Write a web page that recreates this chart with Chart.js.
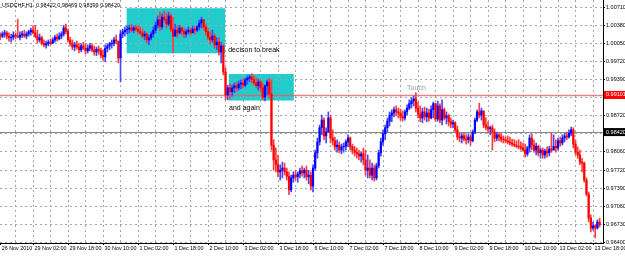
<!DOCTYPE html>
<html>
<head>
<meta charset="utf-8">
<script src="https://cdn.jsdelivr.net/npm/chart.js@4/dist/chart.umd.min.js"></script>
<style>
  body { margin: 0; background: #fff; }
  #wrap { width: 625px; height: 256px; position: relative; }
</style>
</head>
<body>
<div id="wrap"><canvas id="chart"></canvas></div>
<script>
// USDCHF H1 bars
const symbolTitle = 'USDCHF,H1  0.98422 0.98469 0.98399 0.98420';
const firstOpen = 1.0020;

const highs = [
  1.0024, 1.0026, 1.0029, 1.0027, 1.0024, 1.0022, 1.0026, 1.0024, 1.0049, 1.0026,
  1.0027, 1.0029, 1.0026, 1.0029, 1.0033, 1.0037, 1.0038, 1.0029, 1.0022, 1.0018,
  1.0011, 1.0009, 1.0011, 1.0013, 1.0015, 1.0020, 1.0022, 1.0024, 1.0026, 1.0038,
  1.0040, 1.0031, 1.0016, 1.0011, 1.0007, 1.0009, 1.0005, 1.0004, 1.0007, 1.0004,
  1.0002, 1.0005, 1.0004, 1.0000, 0.9998, 1.0000, 0.9996, 0.9993, 1.0002, 1.0004,
  1.0007, 1.0011, 1.0016, 1.0020, 1.0005, 1.0029, 1.0031, 1.0035, 1.0037, 1.0038,
  1.0040, 1.0037, 1.0038, 1.0037, 1.0035, 1.0031, 1.0027, 1.0024, 1.0020, 1.0026,
  1.0035, 1.0044, 1.0055, 1.0062, 1.0059, 1.0064, 1.0060, 1.0062, 1.0059, 1.0053,
  1.0040, 1.0037, 1.0038, 1.0035, 1.0033, 1.0031, 1.0035, 1.0033, 1.0037, 1.0035,
  1.0038, 1.0048, 1.0053, 1.0049, 1.0040, 1.0033, 1.0026, 1.0029, 1.0022, 1.0015,
  1.0015, 1.0007, 1.0002, 0.9960, 0.9928, 0.9930, 0.9928, 0.9932, 0.9934, 0.9936,
  0.9938, 0.9939, 0.9941, 0.9945, 0.9947, 0.9949, 0.9945, 0.9941, 0.9939, 0.9938,
  0.9932, 0.9928, 0.9938, 0.9941, 0.9938, 0.9828, 0.9813, 0.9800, 0.9782, 0.9787,
  0.9785, 0.9776, 0.9769, 0.9763, 0.9769, 0.9772, 0.9769, 0.9776, 0.9780, 0.9776,
  0.9780, 0.9772, 0.9769, 0.9782, 0.9809, 0.9831, 0.9855, 0.9873, 0.9868, 0.9850,
  0.9879, 0.9873, 0.9846, 0.9833, 0.9828, 0.9824, 0.9820, 0.9822, 0.9828, 0.9837,
  0.9833, 0.9820, 0.9816, 0.9813, 0.9809, 0.9805, 0.9813, 0.9809, 0.9800, 0.9791,
  0.9785, 0.9782, 0.9785, 0.9809, 0.9831, 0.9846, 0.9855, 0.9868, 0.9879, 0.9883,
  0.9888, 0.9890, 0.9886, 0.9884, 0.9881, 0.9883, 0.9892, 0.9901, 0.9905, 0.9908,
  0.9914, 0.9897, 0.9890, 0.9886, 0.9888, 0.9886, 0.9884, 0.9890, 0.9897, 0.9895,
  0.9899, 0.9894, 0.9901, 0.9886, 0.9879, 0.9875, 0.9868, 0.9864, 0.9861, 0.9853,
  0.9840, 0.9839, 0.9840, 0.9837, 0.9839, 0.9837, 0.9846, 0.9868, 0.9883, 0.9895,
  0.9886, 0.9879, 0.9868, 0.9861, 0.9853, 0.9855, 0.9848, 0.9842, 0.9840, 0.9839,
  0.9835, 0.9833, 0.9835, 0.9833, 0.9829, 0.9828, 0.9826, 0.9828, 0.9824, 0.9822,
  0.9820, 0.9816, 0.9837, 0.9839, 0.9828, 0.9822, 0.9818, 0.9813, 0.9813, 0.9811,
  0.9815, 0.9816, 0.9840, 0.9837, 0.9828, 0.9831, 0.9833, 0.9837, 0.9840, 0.9842,
  0.9846, 0.9851, 0.9850, 0.9828, 0.9815, 0.9809, 0.9794, 0.9787, 0.9758, 0.9732,
  0.9690, 0.9677, 0.9672, 0.9681, 0.9684
];

const lows = [
  1.0011, 1.0015, 1.0016, 1.0013, 1.0009, 1.0007, 1.0011, 1.0013, 1.0015, 1.0011,
  1.0015, 1.0016, 1.0013, 1.0018, 1.0020, 1.0022, 1.0015, 1.0005, 1.0007, 1.0002,
  0.9998, 0.9996, 1.0000, 1.0002, 1.0004, 1.0007, 1.0009, 1.0011, 1.0013, 1.0018,
  1.0022, 1.0007, 1.0000, 0.9993, 0.9991, 0.9994, 0.9987, 0.9989, 0.9993, 0.9985,
  0.9987, 0.9991, 0.9989, 0.9983, 0.9982, 0.9985, 0.9978, 0.9974, 0.9971, 0.9989,
  0.9993, 0.9996, 1.0000, 1.0004, 0.9969, 0.9934, 1.0015, 1.0018, 1.0022, 1.0024,
  1.0026, 1.0024, 1.0027, 1.0022, 1.0020, 1.0015, 1.0011, 1.0005, 1.0002, 1.0011,
  1.0016, 1.0024, 1.0033, 1.0029, 1.0031, 1.0044, 1.0033, 1.0037, 1.0026, 0.9987,
  1.0018, 1.0016, 1.0022, 1.0020, 1.0015, 1.0016, 1.0022, 1.0020, 1.0024, 1.0022,
  1.0026, 1.0029, 1.0033, 1.0029, 1.0020, 1.0011, 1.0004, 1.0007, 0.9996, 0.9993,
  0.9983, 0.9969, 0.9947, 0.9901, 0.9901, 0.9903, 0.9908, 0.9914, 0.9916, 0.9919,
  0.9921, 0.9923, 0.9925, 0.9930, 0.9934, 0.9932, 0.9928, 0.9923, 0.9919, 0.9916,
  0.9901, 0.9899, 0.9910, 0.9905, 0.9809, 0.9772, 0.9769, 0.9760, 0.9754, 0.9758,
  0.9763, 0.9754, 0.9727, 0.9732, 0.9750, 0.9754, 0.9750, 0.9758, 0.9761, 0.9758,
  0.9754, 0.9747, 0.9736, 0.9732, 0.9772, 0.9794, 0.9818, 0.9837, 0.9828, 0.9822,
  0.9850, 0.9822, 0.9818, 0.9809, 0.9805, 0.9804, 0.9802, 0.9805, 0.9809, 0.9815,
  0.9809, 0.9802, 0.9798, 0.9794, 0.9791, 0.9787, 0.9782, 0.9763, 0.9758, 0.9758,
  0.9754, 0.9752, 0.9754, 0.9776, 0.9798, 0.9818, 0.9828, 0.9842, 0.9853, 0.9861,
  0.9870, 0.9872, 0.9868, 0.9864, 0.9862, 0.9864, 0.9873, 0.9883, 0.9886, 0.9890,
  0.9879, 0.9868, 0.9861, 0.9859, 0.9864, 0.9861, 0.9862, 0.9866, 0.9868, 0.9861,
  0.9862, 0.9859, 0.9855, 0.9864, 0.9857, 0.9853, 0.9850, 0.9850, 0.9842, 0.9828,
  0.9824, 0.9822, 0.9826, 0.9820, 0.9822, 0.9818, 0.9824, 0.9839, 0.9861, 0.9868,
  0.9864, 0.9850, 0.9846, 0.9840, 0.9837, 0.9809, 0.9824, 0.9826, 0.9826, 0.9824,
  0.9822, 0.9822, 0.9820, 0.9818, 0.9816, 0.9815, 0.9813, 0.9811, 0.9809, 0.9807,
  0.9796, 0.9798, 0.9805, 0.9809, 0.9805, 0.9800, 0.9798, 0.9794, 0.9794, 0.9794,
  0.9796, 0.9798, 0.9805, 0.9809, 0.9805, 0.9809, 0.9816, 0.9818, 0.9824, 0.9828,
  0.9831, 0.9835, 0.9813, 0.9800, 0.9794, 0.9782, 0.9769, 0.9750, 0.9725, 0.9677,
  0.9659, 0.9662, 0.9648, 0.9664, 0.9668
];

const closes = [
  1.0018, 1.0022, 1.0024, 1.0018, 1.0015, 1.0016, 1.0020, 1.0018, 1.0016, 1.0020,
  1.0022, 1.0018, 1.0022, 1.0026, 1.0029, 1.0024, 1.0018, 1.0011, 1.0015, 1.0005,
  1.0002, 1.0004, 1.0007, 1.0005, 1.0011, 1.0016, 1.0013, 1.0018, 1.0022, 1.0033,
  1.0027, 1.0011, 1.0004, 0.9998, 1.0002, 0.9998, 0.9993, 1.0000, 0.9996, 0.9991,
  0.9996, 1.0000, 0.9993, 0.9989, 0.9994, 0.9991, 0.9983, 0.9980, 0.9996, 1.0000,
  1.0004, 1.0005, 1.0011, 1.0009, 0.9978, 1.0022, 1.0026, 1.0029, 1.0031, 1.0033,
  1.0029, 1.0033, 1.0031, 1.0027, 1.0024, 1.0018, 1.0022, 1.0011, 1.0015, 1.0022,
  1.0029, 1.0038, 1.0048, 1.0035, 1.0053, 1.0048, 1.0040, 1.0055, 1.0031, 1.0018,
  1.0029, 1.0024, 1.0033, 1.0027, 1.0022, 1.0026, 1.0029, 1.0024, 1.0031, 1.0029,
  1.0035, 1.0042, 1.0048, 1.0035, 1.0026, 1.0016, 1.0011, 1.0018, 1.0002, 1.0007,
  0.9989, 1.0000, 0.9952, 0.9910, 0.9923, 0.9916, 0.9923, 0.9927, 0.9923, 0.9930,
  0.9932, 0.9928, 0.9938, 0.9941, 0.9943, 0.9938, 0.9932, 0.9927, 0.9934, 0.9923,
  0.9906, 0.9927, 0.9934, 0.9912, 0.9818, 0.9791, 0.9782, 0.9769, 0.9772, 0.9776,
  0.9769, 0.9761, 0.9736, 0.9758, 0.9763, 0.9760, 0.9765, 0.9771, 0.9767, 0.9772,
  0.9760, 0.9763, 0.9743, 0.9776, 0.9804, 0.9824, 0.9850, 0.9864, 0.9835, 0.9842,
  0.9868, 0.9831, 0.9826, 0.9815, 0.9818, 0.9809, 0.9815, 0.9816, 0.9824, 0.9831,
  0.9815, 0.9809, 0.9805, 0.9802, 0.9798, 0.9802, 0.9791, 0.9772, 0.9776, 0.9763,
  0.9776, 0.9758, 0.9780, 0.9804, 0.9824, 0.9839, 0.9850, 0.9862, 0.9873, 0.9877,
  0.9883, 0.9879, 0.9877, 0.9870, 0.9868, 0.9879, 0.9886, 0.9894, 0.9899, 0.9903,
  0.9886, 0.9875, 0.9868, 0.9879, 0.9870, 0.9877, 0.9868, 0.9883, 0.9894, 0.9866,
  0.9890, 0.9864, 0.9883, 0.9868, 0.9872, 0.9861, 0.9857, 0.9859, 0.9846, 0.9833,
  0.9831, 0.9835, 0.9829, 0.9828, 0.9833, 0.9826, 0.9842, 0.9864, 0.9879, 0.9873,
  0.9881, 0.9855, 0.9851, 0.9848, 0.9850, 0.9842, 0.9831, 0.9837, 0.9833, 0.9829,
  0.9828, 0.9826, 0.9824, 0.9822, 0.9820, 0.9818, 0.9816, 0.9815, 0.9813, 0.9809,
  0.9802, 0.9813, 0.9831, 0.9818, 0.9809, 0.9816, 0.9804, 0.9809, 0.9800, 0.9807,
  0.9804, 0.9811, 0.9809, 0.9816, 0.9813, 0.9826, 0.9822, 0.9831, 0.9835, 0.9833,
  0.9840, 0.9846, 0.9820, 0.9805, 0.9800, 0.9787, 0.9785, 0.9754, 0.9728, 0.9684,
  0.9666, 0.9670, 0.9666, 0.9677, 0.9672
];

// time axis: label text and the bar it sits on
const timeLabels = ['26 Nov 2010', '29 Nov 02:00', '29 Nov 18:00', '30 Nov 10:00', '1 Dec 02:00',
  '1 Dec 18:00', '2 Dec 10:00', '3 Dec 02:00', '3 Dec 18:00', '6 Dec 10:00', '7 Dec 02:00',
  '7 Dec 18:00', '8 Dec 10:00', '9 Dec 02:00', '9 Dec 18:00', '10 Dec 10:00', '13 Dec 02:00',
  '13 Dec 18:00'];
const timeLabelBars = [0, 15, 31, 47, 63, 79, 95, 111, 127, 143, 159, 175, 191, 207, 223, 239, 255, 271];
const gridBars = [];
for (let b = 7; b <= 271; b += 8) gridBars.push(b);

const priceTicks = [1.00710, 1.00380, 1.00050, 0.99720, 0.99390, 0.99060, 0.98720,
  0.98390, 0.98060, 0.97720, 0.97390, 0.97060, 0.96730, 0.96400];

const redLevel = 0.99101;
const bidLevel = 0.98420;

// drawn objects on the chart
const boxes = [
  { from: 57.8, to: 102.8, top: 1.00691, bottom: 0.99865 },
  { from: 104.5, to: 134.2, top: 0.99485, bottom: 0.98999 }
];
const notes = [
  { text: 'decison to break', bar: 104.2, price: 0.99926, color: '#000' },
  { text: 'and again', bar: 104.6, price: 0.98862, color: '#000' },
  { text: 'Touch', bar: 186.0, price: 0.99219, color: '#999' }
];

const opens = closes.map((c, i) => i === 0 ? firstOpen : closes[i - 1]);
const isUp = closes.map((c, i) => c >= opens[i]);

const font = 'Liberation Sans, Arial, sans-serif';
const gridColor = 'rgb(158,166,180)';

const overlay = {
  id: 'overlay',
  beforeDraw(chart) {
    const { ctx, scales: { x, y } } = chart;
    ctx.save();
    ctx.fillStyle = 'rgb(32,204,204)';
    boxes.forEach(b => {
      const x1 = x.getPixelForValue(b.from), x2 = x.getPixelForValue(b.to);
      const y1 = y.getPixelForValue(b.top), y2 = y.getPixelForValue(b.bottom);
      ctx.fillRect(x1, y1, x2 - x1, y2 - y1);
    });
    ctx.restore();
  },
  beforeDatasetsDraw(chart) {
    const { ctx, chartArea: a, scales: { y } } = chart;
    ctx.save();
    let py = Math.round(y.getPixelForValue(redLevel)) + 0.5;
    ctx.strokeStyle = 'rgba(235,90,90,0.75)';
    ctx.lineWidth = 1.5;
    ctx.beginPath(); ctx.moveTo(a.left, py); ctx.lineTo(a.right, py); ctx.stroke();
    py = Math.round(y.getPixelForValue(bidLevel)) + 0.5;
    ctx.strokeStyle = '#8a8a8a';
    ctx.lineWidth = 1;
    ctx.beginPath(); ctx.moveTo(a.left, py); ctx.lineTo(a.right, py); ctx.stroke();
    ctx.restore();
  },
  afterDatasetsDraw(chart) {
    const { ctx, scales: { x, y } } = chart;
    ctx.save();
    ctx.font = '7px ' + font;
    ctx.textBaseline = 'middle';
    notes.forEach(n => {
      ctx.fillStyle = n.color;
      ctx.fillText(n.text, x.getPixelForValue(n.bar), y.getPixelForValue(n.price));
    });
    ctx.restore();
  },
  afterDraw(chart) {
    const { ctx, chartArea: a, scales: { y } } = chart;
    ctx.save();
    ctx.font = '5.5px ' + font;
    ctx.textBaseline = 'middle';
    const tag = (val, bg) => {
      const py = y.getPixelForValue(val);
      ctx.fillStyle = bg;
      ctx.fillRect(a.right + 1, py - 4, 22, 8);
      ctx.fillStyle = '#fff';
      ctx.fillText(val.toFixed(5), a.right + 3, py);
    };
    tag(redLevel, '#ff0000');
    tag(bidLevel, '#000');
    ctx.fillStyle = '#000';
    ctx.fillText(symbolTitle, 2, 5);
    ctx.restore();
  }
};

new Chart(document.getElementById('chart'), {
  type: 'bar',
  data: {
    datasets: [
      {
        label: 'range',
        data: highs.map((h, i) => ({ x: i, y: [lows[i], h] })),
        backgroundColor: isUp.map(u => u ? 'rgb(70,70,255)' : 'rgb(255,60,60)'),
        barThickness: 1,
        grouped: false,
        order: 2
      },
      {
        label: 'body',
        data: closes.map((c, i) => ({ x: i, y: [opens[i], c] })),
        backgroundColor: isUp.map(u => u ? '#0000ff' : '#ff0000'),
        barThickness: 1.5,
        grouped: false,
        order: 1
      }
    ]
  },
  options: {
    responsive: true,
    maintainAspectRatio: false,
    animation: false,
    layout: { padding: 0 },
    plugins: { legend: { display: false }, tooltip: { enabled: false } },
    scales: {
      x: {
        type: 'linear',
        min: -0.1,
        max: 275.56,
        offset: false,
        bounds: 'data',
        afterBuildTicks: s => { s.ticks = [0, ...gridBars].map(v => ({ value: v })); },
        afterFit: s => { s.height = 13; s.paddingLeft = 0; s.paddingRight = 0; },
        grid: {
          offset: false,
          color: c => c.tick && c.tick.value === 0 ? 'rgba(0,0,0,0)' : gridColor,
          tickColor: c => c.tick && timeLabelBars.includes(c.tick.value) ? '#000' : 'rgba(0,0,0,0)',
          tickLength: 2
        },
        border: { display: true, color: '#000', dash: [2, 3] },
        ticks: {
          autoSkip: false,
          maxRotation: 0,
          align: 'start',
          padding: 0,
          labelOffset: 1.5,
          color: '#000',
          font: { family: font, size: 5.4 },
          callback: v => {
            const k = timeLabelBars.indexOf(v);
            return k >= 0 ? timeLabels[k] : '';
          }
        }
      },
      y: {
        position: 'right',
        min: 0.96385,
        max: 1.00843,
        bounds: 'data',
        afterBuildTicks: s => { s.ticks = priceTicks.map(v => ({ value: v })); },
        afterFit: s => { s.width = 22; s.paddingTop = 0; s.paddingBottom = 0; },
        grid: { color: gridColor, tickColor: '#000', tickLength: 2 },
        border: { display: true, color: '#000', dash: [2, 3] },
        ticks: {
          padding: 1,
          color: '#000',
          font: { family: font, size: 5.5 },
          callback: v => Number(v).toFixed(5)
        }
      }
    }
  },
  plugins: [overlay]
});
</script>
</body>
</html>
